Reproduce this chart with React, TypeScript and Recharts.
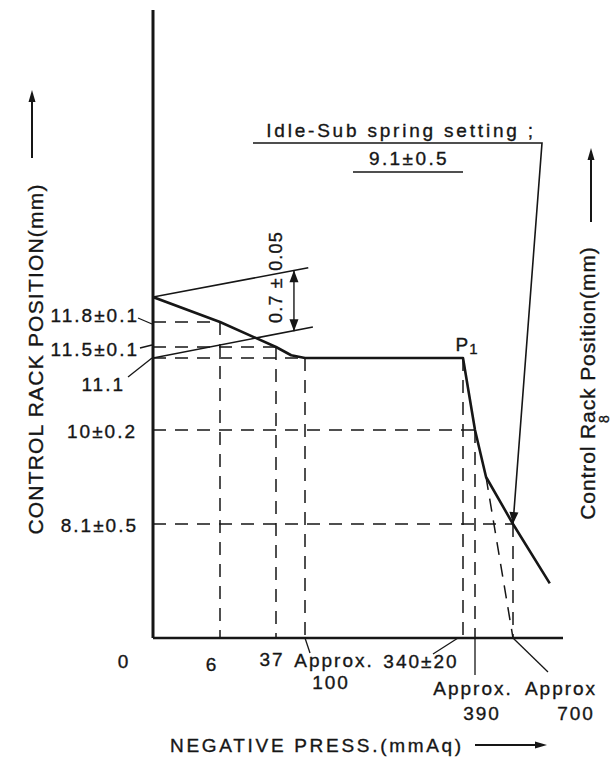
import { ComposedChart, Line, XAxis, YAxis, ReferenceDot } from "recharts";

const INK = "#161616";
const FONT = "'Liberation Sans', Arial, Helvetica, sans-serif";

// x: negative pressure (mmAq)
const PRESS_TICKS = [0, 6, 37, 100, 340, 390, 700];
const PRESS_LABELS = [
  ["0"],
  ["6"],
  ["37"],
  ["Approx.", "100"],
  ["340±20"],
  ["Approx.", "390"],
  ["Approx", "700"],
];

// y: control rack position (mm)
const RACK_TICKS = [11.8, 11.5, 11.1, 10, 8.1];
const RACK_LABELS = ["11.8±0.1", "11.5±0.1", "11.1", "10±0.2", "8.1±0.5"];

// governor characteristic
const CURVE_PRESS = [0, 6, 37, 70, 100, 340, 390, 480, 700, 1000];
const CURVE_RACK = [12.1, 11.8, 11.5, 11.2, 11.1, 11.1, 10, 9.05, 8.1, 6.9];

// 0.7±0.05 band
const BAND_HI_PRESS = [0, 105];
const BAND_HI_RACK = [12.1, 12.45];
const BAND_LO_PRESS = [0, 112];
const BAND_LO_RACK = [11.1, 11.74];
const BAND_GAP_PRESS = [76, 76];
const BAND_GAP_RACK = [12.42, 11.69];

// dashed guides: where each one meets the curve
const RACK_GUIDE_TO = [6, 37, 100, 390, 700];
const PRESS_GUIDE_FROM = [null, 11.8, 11.5, 11.1, 11.1, 10, 8.1];
const STEEP_EXT_PRESS = [480, 700];
const STEEP_EXT_RACK = 9.05;

const IDLE_TITLE = "Idle-Sub spring setting ;";
const IDLE_VALUE = "9.1±0.5";
const IDLE_PRESS = 700;
const IDLE_RACK = 8.1;

// the drawing is not to scale: axis units where each tick sits
const PRESS_AXIS = [0, 67, 123, 152, 310, 322, 360];
const RACK_AXIS = [316, 291, 280, 208, 114];
const X_SPAN = 410;
const Y_SPAN = 628;

function interp(v: number, xs: number[], ys: number[]) {
  const pairs = xs.map((x, i) => [x, ys[i]]).sort((a, b) => a[0] - b[0]);
  let i = 1;
  while (i < pairs.length - 1 && v > pairs[i][0]) i++;
  const [x0, y0] = pairs[i - 1];
  const [x1, y1] = pairs[i];
  return y0 + ((v - x0) * (y1 - y0)) / (x1 - x0);
}
const PX = (p: number) => interp(p, PRESS_TICKS, PRESS_AXIS);
const RY = (r: number) => interp(r, RACK_TICKS, RACK_AXIS);
const RACK_FLOOR = interp(0, RACK_AXIS, RACK_TICKS);

const pts = (press: number[], rack: number[]) =>
  press.map((p, i) => ({ x: PX(p), y: RY(rack[i]) }));

const curve = pts(CURVE_PRESS, CURVE_RACK);
const bandHi = pts(BAND_HI_PRESS, BAND_HI_RACK);
const bandLo = pts(BAND_LO_PRESS, BAND_LO_RACK);
const bandGap = pts(BAND_GAP_PRESS, BAND_GAP_RACK);
const steepExt = pts(STEEP_EXT_PRESS, [STEEP_EXT_RACK, RACK_FLOOR]);

const hGuides = RACK_TICKS.map((r, i) => pts([0, RACK_GUIDE_TO[i]], [r, r]));
const vGuides = PRESS_TICKS.map((p, i) =>
  PRESS_GUIDE_FROM[i] == null ? null : pts([p, p], [PRESS_GUIDE_FROM[i] as number, RACK_FLOOR]),
);

const idleLeader = [
  { x: 100, y: 495 },
  { x: 389, y: 495 },
  { x: PX(IDLE_PRESS), y: RY(IDLE_RACK) },
];
const idleUnderline = [
  { x: 200, y: 466 },
  { x: 310, y: 466 },
];

const textStyle = {
  fontFamily: FONT,
  fontSize: 19,
  fill: INK,
  stroke: INK,
  strokeWidth: 0.35,
  letterSpacing: 2,
};

// label offsets from each tick point
const PRESS_LAYOUT: { dx: number[]; dy: number[]; leader?: number[] }[] = [
  { dx: [-29], dy: [23] },
  { dx: [-8], dy: [26] },
  { dx: [-4], dy: [21] },
  { dx: [29, 26], dy: [22, 44], leader: [0, 0, 5, 15] },
  { dx: [-42], dy: [23], leader: [-5, 0, -30, 16] },
  { dx: [-2, 7], dy: [50, 75], leader: [0, 0, 0, 37] },
  { dx: [48, 63], dy: [50, 75], leader: [0, 0, 35, 34] },
];
const RACK_LAYOUT: { dx: number; dy: number; leader?: number[] }[] = [
  { dx: -14, dy: -7, leader: [-15, -4, -1, 2] },
  { dx: -14, dy: 2, leader: [-13, 1, -1, -2] },
  { dx: -28, dy: 26, leader: [-25, 19, -1, 0] },
  { dx: -16, dy: 1 },
  { dx: -15, dy: 1 },
];

const PressTick = (props: any) => {
  const { x, y, payload } = props;
  const i = PRESS_TICKS.findIndex((p) => Math.abs(PX(p) - payload.value) < 1e-6);
  if (i < 0) return <g />;
  const lay = PRESS_LAYOUT[i];
  return (
    <g>
      {lay.leader && (
        <line
          x1={x + lay.leader[0]}
          y1={y + lay.leader[1]}
          x2={x + lay.leader[2]}
          y2={y + lay.leader[3]}
          stroke={INK}
          strokeWidth={1.3}
        />
      )}
      {PRESS_LABELS[i].map((t, k) => (
        <text
          key={k}
          x={x + lay.dx[k]}
          y={y + lay.dy[k]}
          textAnchor="middle"
          dominantBaseline="central"
          style={textStyle}
        >
          {t}
        </text>
      ))}
    </g>
  );
};

const RackTick = (props: any) => {
  const { x, y, payload } = props;
  const i = RACK_TICKS.findIndex((r) => Math.abs(RY(r) - payload.value) < 1e-6);
  if (i < 0) return <g />;
  const lay = RACK_LAYOUT[i];
  return (
    <g>
      {lay.leader && (
        <line
          x1={x + lay.leader[0]}
          y1={y + lay.leader[1]}
          x2={x + lay.leader[2]}
          y2={y + lay.leader[3]}
          stroke={INK}
          strokeWidth={1.3}
        />
      )}
      <text
        x={x + lay.dx}
        y={y + lay.dy}
        textAnchor="end"
        dominantBaseline="central"
        style={textStyle}
      >
        {RACK_LABELS[i]}
      </text>
    </g>
  );
};

const arrowHead = (tx: number, ty: number, ux: number, uy: number, len = 12, w = 4.5) => {
  const bx = tx - ux * len;
  const by = ty - uy * len;
  return `${tx},${ty} ${bx - uy * w},${by + ux * w} ${bx + uy * w},${by - ux * w}`;
};

// arrowheads on chosen points of a polyline (axis units are 1:1 with pixels)
const arrowDot = (data: { x: number; y: number }[], ends: number[]) => (props: any) => {
  const { cx, cy, index } = props;
  if (!ends.includes(index) || cx == null) return <g key={`a${index}`} />;
  const other = data[index === 0 ? 1 : index - 1];
  const me = data[index];
  const dx = me.x - other.x;
  const dy = -(me.y - other.y);
  const l = Math.hypot(dx, dy) || 1;
  return (
    <polygon key={`a${index}`} points={arrowHead(cx, cy, dx / l, dy / l)} fill={INK} />
  );
};

const RackTitle = (props: any) => {
  const vb = props.viewBox;
  const x = vb.x + 35;
  const y = vb.y + 349;
  return (
    <g>
      <text
        x={x}
        y={y}
        transform={`rotate(-90 ${x} ${y})`}
        textAnchor="middle"
        dominantBaseline="central"
        style={{ ...textStyle, fontSize: 21, letterSpacing: 1.2 }}
      >
        CONTROL RACK POSITION(mm)
      </text>
      <line x1={vb.x + 32} y1={vb.y + 148} x2={vb.x + 32} y2={vb.y + 92} stroke={INK} strokeWidth={2} />
      <polygon points={arrowHead(vb.x + 32, vb.y + 80, 0, -1, 12, 3.5)} fill={INK} />
    </g>
  );
};

const RightTitle = (props: any) => {
  const vb = props.viewBox;
  const x = vb.x + 24;
  const y = vb.y + 373;
  const ex = vb.x + 41;
  const ey = vb.y + 408;
  return (
    <g>
      <text
        x={x}
        y={y}
        transform={`rotate(-90 ${x} ${y})`}
        textAnchor="middle"
        dominantBaseline="central"
        style={{ ...textStyle, fontSize: 21, letterSpacing: 0.9 }}
      >
        Control Rack Position(mm)
      </text>
      <text
        x={ex}
        y={ey}
        transform={`rotate(-90 ${ex} ${ey})`}
        textAnchor="middle"
        dominantBaseline="central"
        style={{ ...textStyle, fontSize: 14 }}
      >
        8
      </text>
      <line x1={vb.x + 28} y1={vb.y + 212} x2={vb.x + 28} y2={vb.y + 150} stroke={INK} strokeWidth={2} />
      <polygon points={arrowHead(vb.x + 28, vb.y + 138, 0, -1, 12, 3.5)} fill={INK} />
    </g>
  );
};

const PressTitle = (props: any) => {
  const vb = props.viewBox;
  const y = vb.y + 107;
  return (
    <g>
      <text x={vb.x + 17} y={y} dominantBaseline="central" style={{ ...textStyle, letterSpacing: 2.7 }}>
        NEGATIVE PRESS.(mmAq)
      </text>
      <line x1={vb.x + 322} y1={y} x2={vb.x + 382} y2={y} stroke={INK} strokeWidth={2} />
      <polygon points={arrowHead(vb.x + 394, y, 1, 0, 12, 3.5)} fill={INK} />
    </g>
  );
};

const note = (text: any, opts: any = {}) => (p: any) => {
  const { cx, cy } = p;
  const rot = opts.rotate ? `rotate(${opts.rotate} ${cx} ${cy})` : undefined;
  return (
    <text
      x={cx}
      y={cy}
      transform={rot}
      textAnchor="middle"
      dominantBaseline="central"
      style={{ ...textStyle, ...(opts.style || {}) }}
    >
      {text}
    </text>
  );
};

const lineProps = {
  type: "linear" as const,
  dataKey: "y",
  stroke: INK,
  dot: false,
  activeDot: false,
  isAnimationActive: false,
  legendType: "none" as const,
};

export default function App() {
  return (
    <div
      style={{
        position: "absolute",
        left: 0,
        top: 0,
        width: 611,
        height: 761,
        background: "#fff",
        overflow: "hidden",
      }}
    >
      <ComposedChart width={611} height={761} margin={{ top: 10, right: 0, bottom: 0, left: 0 }}>
        <XAxis
          type="number"
          dataKey="x"
          domain={[0, X_SPAN]}
          allowDataOverflow
          ticks={PRESS_TICKS.map(PX)}
          interval={0}
          height={123}
          tickSize={0}
          tickMargin={0}
          tickLine={false}
          tick={PressTick}
          axisLine={{ stroke: INK, strokeWidth: 2.5 }}
          label={PressTitle}
        />
        <YAxis
          type="number"
          domain={[0, Y_SPAN]}
          allowDataOverflow
          ticks={RACK_TICKS.map(RY)}
          interval={0}
          width={153}
          tickSize={0}
          tickMargin={0}
          tickLine={false}
          tick={RackTick}
          axisLine={{ stroke: INK, strokeWidth: 3 }}
          label={RackTitle}
        />
        <YAxis
          yAxisId="right"
          orientation="right"
          type="number"
          domain={[0, Y_SPAN]}
          width={48}
          tick={false}
          tickLine={false}
          axisLine={false}
          label={RightTitle}
        />

        {hGuides.map((d, i) => (
          <Line key={`h${i}`} {...lineProps} data={d} strokeWidth={1.5} strokeDasharray="13 9" />
        ))}
        {vGuides.map((d, i) =>
          d ? (
            <Line key={`v${i}`} {...lineProps} data={d} strokeWidth={1.5} strokeDasharray="13 9" />
          ) : null,
        )}
        <Line {...lineProps} data={steepExt} strokeWidth={1.5} strokeDasharray="13 9" />

        <Line {...lineProps} data={bandHi} strokeWidth={1.6} />
        <Line {...lineProps} data={bandLo} strokeWidth={1.6} />
        <Line {...lineProps} data={bandGap} strokeWidth={1.4} dot={arrowDot(bandGap, [0, 1])} />

        <Line {...lineProps} data={idleLeader} strokeWidth={1.6} dot={arrowDot(idleLeader, [2])} />
        <Line {...lineProps} data={idleUnderline} strokeWidth={1.4} />

        <Line {...lineProps} data={curve} strokeWidth={2.6} strokeLinejoin="round" />

        <ReferenceDot x={248} y={508} r={0} shape={note(IDLE_TITLE, { style: { letterSpacing: 2.8 } })} />
        <ReferenceDot x={256} y={480} r={0} shape={note(IDLE_VALUE, { style: { letterSpacing: 2.4 } })} />
        <ReferenceDot
          x={123}
          y={361}
          r={0}
          shape={note("0.7 ± 0.05", { rotate: -90, style: { fontSize: 18, letterSpacing: 1.2 } })}
        />
        <ReferenceDot
          x={PX(340) + 4}
          y={RY(11.1) + 14}
          r={0}
          shape={note(
            <>
              P<tspan dy={4} fontSize={15}>1</tspan>
            </>,
            { style: { letterSpacing: 1 } },
          )}
        />
      </ComposedChart>
    </div>
  );
}
